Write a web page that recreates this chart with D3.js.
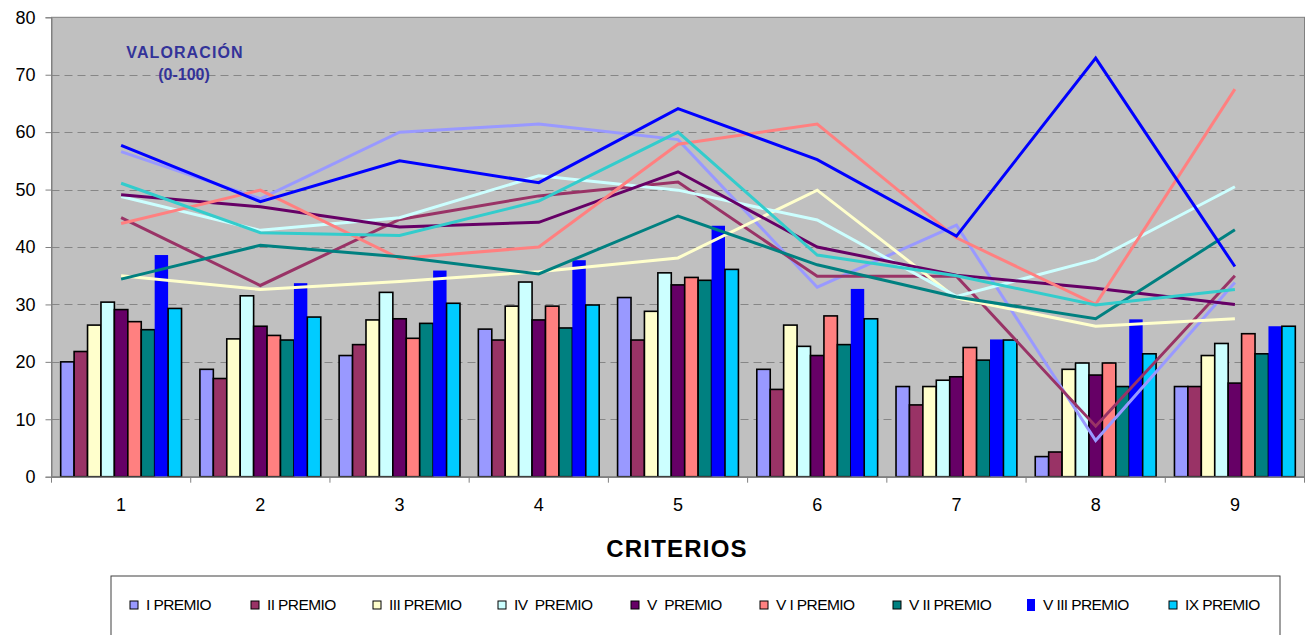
<!DOCTYPE html>
<html>
<head>
<meta charset="utf-8">
<script src="https://cdn.jsdelivr.net/npm/d3@7"></script>
<style>
html,body{margin:0;padding:0;background:#fff;}
svg{display:block;font-family:"Liberation Sans",Arial,sans-serif;}
</style>
</head>
<body>
<svg id="chart" width="1307" height="635"></svg>
<script>
const categories = ["1","2","3","4","5","6","7","8","9"];
const seriesNames = ["I PREMIO","II PREMIO","III PREMIO","IV  PREMIO","V  PREMIO","V I PREMIO","V II PREMIO","V III PREMIO","IX PREMIO"];
const barColors = ["#9999FF","#993366","#FFFFCC","#CCFFFF","#660066","#FF8080","#008080","#0000FF","#00CCFF"];
const lineColors = ["#9999FF","#993366","#FFFFCC","#CCFFFF","#660066","#FF8080","#008080","#0000FF","#33CCCC"];
const yTicks = [0,10,20,30,40,50,60,70,80];

const barsI    = [20.0,18.7,21.1,25.7,31.2,18.7,15.7,3.5,15.7];
const barsII   = [21.8,17.1,23.0,23.8,23.8,15.2,12.5,4.3,15.7];
const barsIII  = [26.4,24.0,27.3,29.7,28.8,26.4,15.7,18.7,21.1];
const barsIV   = [30.4,31.5,32.1,33.9,35.5,22.7,16.8,19.8,23.2];
const barsV    = [29.1,26.2,27.5,27.3,33.4,21.1,17.4,17.7,16.3];
const barsVI   = [27.0,24.6,24.1,29.7,34.7,28.0,22.5,19.8,24.9];
const barsVII  = [25.6,23.8,26.7,25.9,34.2,23.0,20.3,15.7,21.4];
const barsVIII = [38.6,33.7,35.9,37.7,43.7,32.7,23.9,27.4,26.2];
const barsIX   = [29.3,27.8,30.2,29.9,36.1,27.5,23.8,21.4,26.2];

const lineI    = [56.6,48.4,60.0,61.4,58.7,33.0,43.8,6.3,33.8];
const lineII   = [45.1,33.3,44.8,48.9,51.3,34.9,34.9,8.8,35.0];
const lineIII  = [35.0,32.6,34.0,35.7,38.1,49.9,31.1,26.2,27.5];
const lineIV   = [48.8,42.9,45.1,52.4,49.9,44.7,31.4,37.8,50.5];
const lineV    = [49.1,47.0,43.5,44.3,53.1,40.0,35.1,32.8,30.0];
const lineVI   = [44.1,49.9,38.0,40.0,57.9,61.4,41.6,30.0,67.5];
const lineVII  = [34.4,40.3,38.3,35.3,45.4,36.9,31.3,27.5,43.0];
const lineVIII = [57.7,47.9,55.0,51.2,64.1,55.2,41.9,72.9,36.6];
const lineIX   = [51.1,42.5,42.0,48.0,60.0,38.6,35.0,29.9,32.6];

const barSeries = [barsI,barsII,barsIII,barsIV,barsV,barsVI,barsVII,barsVIII,barsIX];
const lineSeries = [lineI,lineII,lineIII,lineIV,lineV,lineVI,lineVII,lineVIII,lineIX];

const svg = d3.select("#chart");
const plot = {left:51.5, right:1304.5, top:17.3, bottom:476.7};

const x = d3.scaleBand().domain(categories).range([plot.left, plot.right]).padding(0);
const bw = x.bandwidth();
const xs = d3.scaleBand().domain(d3.range(9)).range([bw*0.066, bw*0.934]).padding(0);
const y = d3.scaleLinear().domain([0,80]).range([plot.bottom, plot.top]);

// plot background
svg.append("rect").attr("x",plot.left).attr("y",plot.top)
  .attr("width",plot.right-plot.left).attr("height",plot.bottom-plot.top)
  .attr("fill","#C0C0C0").attr("stroke","#808080").attr("stroke-width",1);

// gridlines
svg.append("g").selectAll("line").data(yTicks.filter(d=>d>0 && d<80)).join("line")
  .attr("x1",plot.left).attr("x2",plot.right)
  .attr("y1",d=>Math.round(y(d))+0.5).attr("y2",d=>Math.round(y(d))+0.5)
  .attr("stroke","#868686").attr("stroke-width",1).attr("stroke-dasharray","8,5");

// y axis
const yAxis = d3.axisLeft(y).tickValues(yTicks).tickSize(6).tickPadding(10);
const gy = svg.append("g").attr("transform",`translate(${plot.left},0)`).call(yAxis);
gy.select(".domain").attr("stroke","#808080");
gy.selectAll(".tick line").attr("stroke","#808080");
gy.selectAll(".tick text").attr("font-size",18).attr("fill","#000")
  .attr("font-family","'Liberation Sans',Arial,sans-serif");

// bars
const groups = svg.append("g").selectAll("g").data(barSeries).join("g");
groups.each(function(vals, si){
  d3.select(this).selectAll("rect").data(vals).join("rect")
    .attr("x",(d,i)=>x(categories[i]) + xs(si))
    .attr("y",d=>y(d))
    .attr("width",xs.bandwidth())
    .attr("height",d=>y(0)-y(d))
    .attr("fill",barColors[si])
    .attr("stroke",si===7?"none":"#000")
    .attr("stroke-width",si===7?0:1.6);
});

// x axis
const xAxis = d3.axisBottom(x).tickSize(0).tickPadding(22);
const gx = svg.append("g").attr("transform",`translate(0,${plot.bottom})`).call(xAxis);
gx.select(".domain").attr("stroke","#808080").attr("stroke-width",1.5);
gx.selectAll(".tick text").attr("font-size",18).attr("fill","#000")
  .attr("font-family","'Liberation Sans',Arial,sans-serif");
// category boundary ticks
svg.append("g").selectAll("line").data(categories.concat(["end"])).join("line")
  .attr("x1",(d,i)=>plot.left + i*bw).attr("x2",(d,i)=>plot.left + i*bw)
  .attr("y1",plot.bottom).attr("y2",plot.bottom+6)
  .attr("stroke","#808080").attr("stroke-width",1);

// lines
const lineGen = d3.line().x((d,i)=>x(categories[i]) + bw/2).y(d=>y(d));
svg.append("g").selectAll("path").data(lineSeries).join("path")
  .attr("d",d=>lineGen(d))
  .attr("fill","none")
  .attr("stroke",(d,i)=>lineColors[i])
  .attr("stroke-width",3)
  .attr("stroke-linejoin","miter");

// annotation
const ann = svg.append("g").attr("fill","#333399").attr("font-weight","bold")
  .attr("font-size",16).attr("text-anchor","middle");
ann.append("text").attr("x",185).attr("y",58).attr("letter-spacing","1.1px").text("VALORACIÓN");
ann.append("text").attr("x",184).attr("y",80).text("(0-100)");

// x title
svg.append("text").attr("x",677).attr("y",557).attr("text-anchor","middle")
  .attr("font-size",24).attr("font-weight","bold").attr("letter-spacing","1.2px")
  .attr("fill","#000").text("CRITERIOS");

// legend
svg.append("rect").attr("x",111).attr("y",576).attr("width",1169).attr("height",80)
  .attr("fill","#fff").attr("stroke","#404040").attr("stroke-width",1);
const legendX = [146,267,389,514,647,776,909,1043,1185];
const lg = svg.append("g").selectAll("g").data(seriesNames).join("g")
  .attr("transform",(d,i)=>`translate(${legendX[i]},0)`);
lg.append("rect").attr("x",-16).attr("y",(d,i)=>i===7?599:601)
  .attr("width",8).attr("height",(d,i)=>i===7?12:8)
  .attr("fill",(d,i)=>barColors[i])
  .attr("stroke",(d,i)=>i===7?"none":"#000").attr("stroke-width",1);
lg.append("text").attr("x",0).attr("y",610).attr("font-size",15.5)
  .attr("letter-spacing","-0.6px").attr("fill","#000")
  .style("white-space","pre").text(d=>d);
</script>
</body>
</html>
